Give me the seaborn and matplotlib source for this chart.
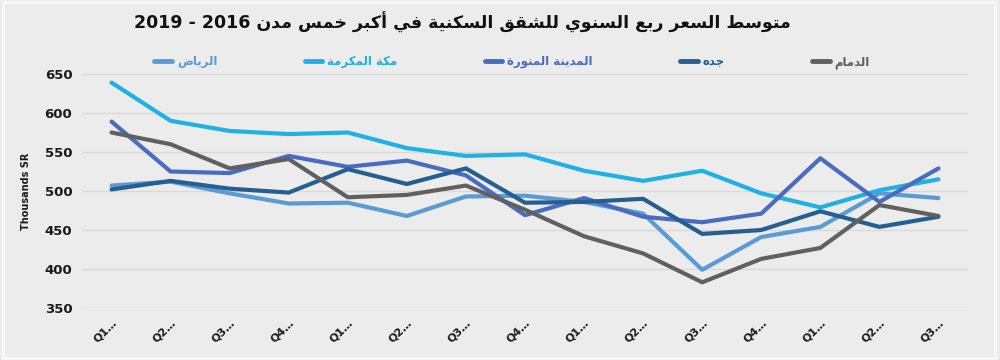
import numpy as np
import pandas as pd
import matplotlib
matplotlib.use("Agg")
import matplotlib.pyplot as plt
import seaborn as sns
from matplotlib.patches import Rectangle

# ==========================================
# Data
# ==========================================
quarters = ["Q1…", "Q2…", "Q3…", "Q4…", "Q1…", "Q2…", "Q3…", "Q4…",
            "Q1…", "Q2…", "Q3…", "Q4…", "Q1…", "Q2…", "Q3…"]

cities = ["الرياض", "مكة المكرمة", "المدينة المنورة", "جده", "الدمام"]

riyadh = [507, 512, 497, 484, 485, 468, 493, 494, 486, 471, 399, 441, 454, 497, 491]
makkah = [639, 590, 577, 573, 575, 555, 545, 547, 526, 513, 526, 497, 479, 501, 515]
madinah = [589, 525, 523, 545, 531, 539, 520, 469, 491, 467, 460, 471, 542, 486, 529]
jeddah = [502, 513, 503, 498, 528, 509, 529, 485, 486, 490, 445, 450, 474, 454, 467]
dammam = [575, 560, 529, 541, 492, 495, 507, 476, 442, 420, 383, 413, 427, 482, 468]

colors = ["#5b9bd5", "#1fb0e6", "#4a6cc0", "#255e91", "#606060"]

title_text = "متوسط السعر ربع السنوي للشقق السكنية في أكبر خمس مدن 2016 - 2019"

# ==========================================
# Arabic shaping (matplotlib has no complex text layout)
# ==========================================
FORMS = {
    # isolated, final, initial, medial
    "ا": (0xFE8D, 0xFE8E, None, None),
    "أ": (0xFE83, 0xFE84, None, None),
    "ب": (0xFE8F, 0xFE90, 0xFE91, 0xFE92),
    "ة": (0xFE93, 0xFE94, None, None),
    "ت": (0xFE95, 0xFE96, 0xFE97, 0xFE98),
    "ج": (0xFE9D, 0xFE9E, 0xFE9F, 0xFEA0),
    "خ": (0xFEA5, 0xFEA6, 0xFEA7, 0xFEA8),
    "د": (0xFEA9, 0xFEAA, None, None),
    "ر": (0xFEAD, 0xFEAE, None, None),
    "س": (0xFEB1, 0xFEB2, 0xFEB3, 0xFEB4),
    "ش": (0xFEB5, 0xFEB6, 0xFEB7, 0xFEB8),
    "ض": (0xFEBD, 0xFEBE, 0xFEBF, 0xFEC0),
    "ط": (0xFEC1, 0xFEC2, 0xFEC3, 0xFEC4),
    "ع": (0xFEC9, 0xFECA, 0xFECB, 0xFECC),
    "ف": (0xFED1, 0xFED2, 0xFED3, 0xFED4),
    "ق": (0xFED5, 0xFED6, 0xFED7, 0xFED8),
    "ك": (0xFED9, 0xFEDA, 0xFEDB, 0xFEDC),
    "ل": (0xFEDD, 0xFEDE, 0xFEDF, 0xFEE0),
    "م": (0xFEE1, 0xFEE2, 0xFEE3, 0xFEE4),
    "ن": (0xFEE5, 0xFEE6, 0xFEE7, 0xFEE8),
    "ه": (0xFEE9, 0xFEEA, 0xFEEB, 0xFEEC),
    "و": (0xFEED, 0xFEEE, None, None),
    "ي": (0xFEF1, 0xFEF2, 0xFEF3, 0xFEF4),
}


def shape_word(word):
    out = []
    for i, c in enumerate(word):
        if c not in FORMS:
            out.append(c)
            continue
        prev = word[i - 1] if i > 0 else None
        nxt = word[i + 1] if i < len(word) - 1 else None
        prev_joins = prev in FORMS and FORMS[prev][2] is not None
        next_joins = nxt in FORMS
        iso, fin, ini, med = FORMS[c]
        if ini is None:
            code = fin if prev_joins else iso
        elif prev_joins and next_joins:
            code = med
        elif prev_joins:
            code = fin
        elif next_joins:
            code = ini
        else:
            code = iso
        out.append(chr(code))
    return "".join(out)


def rtl(text):
    words = []
    for w in text.split(" "):
        if any(ch in FORMS for ch in w):
            words.append(shape_word(w)[::-1])
        else:
            words.append(w)
    return " ".join(words[::-1])


# ==========================================
# Plot
# ==========================================
df = pd.DataFrame({
    "idx": np.tile(np.arange(len(quarters)), len(cities)),
    "city": np.repeat(cities, len(quarters)),
    "value": riyadh + makkah + madinah + jeddah + dammam,
})

sns.set_theme(style="white")
plt.rcParams["font.family"] = ["DejaVu Sans"]

bg = "#ececec"
fig = plt.figure(figsize=(10, 3.6), dpi=100, facecolor=bg)
ax = fig.add_axes([0.082, 0.1444, 0.886, 0.65])
ax.set_facecolor(bg)

sns.lineplot(data=df, x="idx", y="value", hue="city", hue_order=cities,
             palette=colors, linewidth=3.0, ax=ax, legend=False)

ax.set_xlim(-0.5, len(quarters) - 0.5)
ax.set_ylim(350, 650)
ax.set_yticks(np.arange(350, 651, 50))
ax.set_yticklabels([str(v) for v in range(350, 651, 50)], fontsize=9.5,
                   fontweight="bold", color="#1a1a1a")
ax.set_xticks(np.arange(len(quarters)))
ax.set_xticklabels(quarters, rotation=45, ha="right", fontsize=8,
                   fontweight="bold", color="#1a1a1a", rotation_mode="anchor")
ax.tick_params(axis="both", length=0, pad=7)
ax.yaxis.grid(True, color="#d9d9d9", linewidth=1)
for s in ax.spines.values():
    s.set_visible(False)
ax.set_xlabel("")
ax.set_ylabel("Thousands SR", fontsize=7, fontweight="bold", color="#1a1a1a",
              labelpad=10)

# legend
handles = [plt.Line2D([0], [0], color=c, linewidth=3.5) for c in colors]
leg = fig.legend(handles, [rtl(c) for c in cities], loc="center",
                 bbox_to_anchor=(0.512, 0.828), ncol=5, frameon=False,
                 handlelength=1.5, handletextpad=0.4, columnspacing=7.4,
                 prop={"size": 8.5, "weight": "bold"})
for t, c in zip(leg.get_texts(), colors):
    t.set_color(c)

fig.text(0.462, 0.938, rtl(title_text), ha="center", va="center",
         fontsize=12.5, fontweight="bold", color="#111111")

# outer frame
fig.patches.append(Rectangle((0.003, 0.005), 0.992, 0.99, transform=fig.transFigure,
                             fill=False, edgecolor="#f8f8f8", linewidth=2))

fig.savefig("out.png", dpi=100, facecolor=bg)
